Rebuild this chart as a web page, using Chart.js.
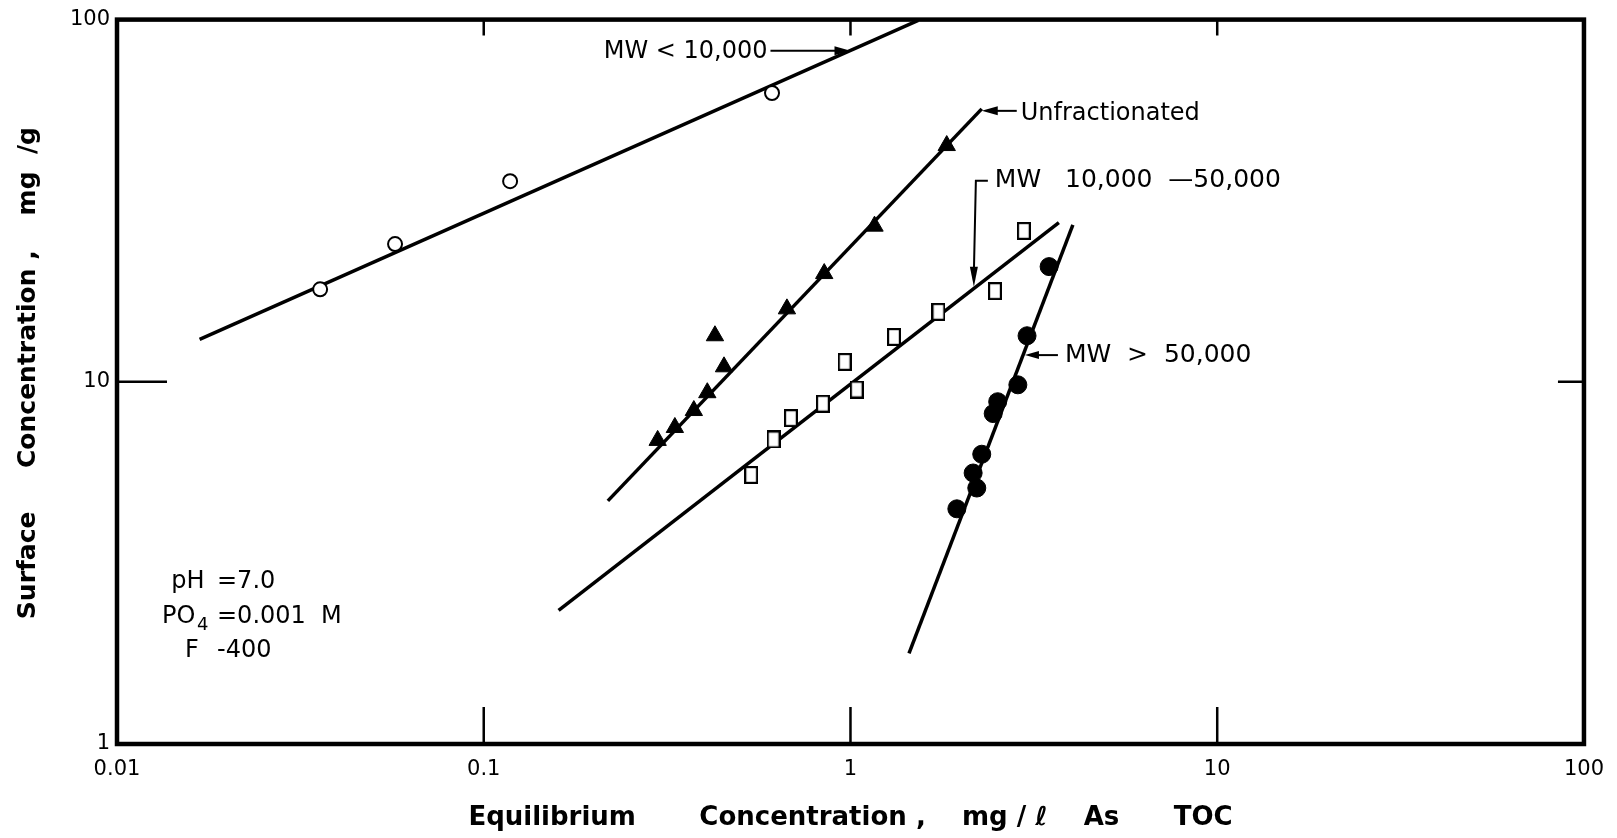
<!DOCTYPE html>
<html>
<head>
<meta charset="utf-8">
<title>Adsorption isotherms</title>
<script src="https://cdn.jsdelivr.net/npm/chart.js@4.4.1/dist/chart.umd.min.js"></script>
<style>
  html, body { margin: 0; padding: 0; background: #fff; }
  canvas { display: block; }
</style>
</head>
<body>
<canvas id="chart" width="1617" height="838"></canvas>
<script>
// log-log axes, decade ticks
const xTicks = [0.01, 0.1, 1, 10, 100];
const xTickLabels = ["0.01", "0.1", "1", "10", "100"];
const yTicks = [1, 10, 100];
const yTickLabels = ["1", "10", "100"];

// MW < 10,000 (open circles)
const lowX = [0.0358, 0.0573, 0.118, 0.611];
const lowY = [18.0, 24.0, 35.8, 62.7];
const lowFitX = [0.0168, 1.53];
const lowFitY = [13.1, 99.5];

// unfractionated (filled triangles)
const unfracX = [0.298, 0.332, 0.374, 0.407, 0.452, 0.427, 0.671, 0.848, 1.163, 1.83];
const unfracY = [6.89, 7.48, 8.33, 9.33, 11.0, 13.4, 15.9, 19.9, 26.9, 44.9];
const unfracFitX = [0.218, 2.28];
const unfracFitY = [4.69, 56.7];

// MW 10,000 - 50,000 (open squares)
const midX = [0.536, 0.617, 0.688, 0.841, 0.964, 1.04, 1.314, 1.737, 2.477, 2.97];
const midY = [5.53, 6.93, 7.94, 8.70, 11.35, 9.52, 13.3, 15.6, 17.8, 26.1];
const midFitX = [0.160, 3.70];
const midFitY = [2.34, 27.5];

// MW > 50,000 (filled circles)
const highX = [3.48, 3.03, 2.86, 2.52, 2.45, 2.28, 2.16, 2.21, 1.95];
const highY = [20.8, 13.4, 9.81, 8.81, 8.17, 6.31, 5.60, 5.09, 4.46];
const highFitX = [1.444, 4.04];
const highFitY = [1.78, 27.1];

const FONT = "'DejaVu Sans', sans-serif";

const pts = (xs, ys) => xs.map((x, i) => ({ x, y: ys[i] }));

// tall open box used for the 10,000-50,000 fraction
function makeBox(w, h) {
  const c = document.createElement("canvas");
  c.width = w; c.height = h;
  const g = c.getContext("2d");
  g.fillStyle = "#fff";
  g.fillRect(0, 0, w, h);
  g.strokeStyle = "#000";
  g.lineWidth = 2.2;
  g.strokeRect(1.1, 1.1, w - 2.2, h - 2.2);
  return c;
}

function points(data, style, radius, fill, border) {
  return {
    data, showLine: false, order: 0,
    pointStyle: style, pointRadius: radius, pointHoverRadius: radius,
    pointBackgroundColor: fill, pointBorderColor: "#000", pointBorderWidth: border
  };
}

function fitLine(data) {
  return {
    data, showLine: true, order: 1, fill: false,
    borderColor: "#000", borderWidth: 3.5, pointRadius: 0, pointHoverRadius: 0
  };
}

// box around the plot plus the short inward ticks
const framePlugin = {
  id: "frame",
  afterDraw(chart) {
    const { ctx, chartArea: a, scales: { x, y } } = chart;
    ctx.save();
    ctx.strokeStyle = "#000";
    ctx.lineWidth = 4.5;
    ctx.strokeRect(a.left, a.top, a.right - a.left, a.bottom - a.top);
    ctx.lineWidth = 2.5;
    ctx.beginPath();
    xTicks.slice(1, -1).forEach(v => {
      const px = x.getPixelForValue(v);
      ctx.moveTo(px, a.bottom); ctx.lineTo(px, a.bottom - 37);
      ctx.moveTo(px, a.top); ctx.lineTo(px, a.top + 16);
    });
    yTicks.slice(1, -1).forEach(v => {
      const py = y.getPixelForValue(v);
      ctx.moveTo(a.left, py); ctx.lineTo(a.left + 50, py);
      ctx.moveTo(a.right, py); ctx.lineTo(a.right - 26, py);
    });
    ctx.stroke();
    ctx.restore();
  }
};

function arrowHead(ctx, x, y, ang, len, half) {
  ctx.beginPath();
  ctx.moveTo(x, y);
  ctx.lineTo(x - len * Math.cos(ang) + half * Math.sin(ang), y - len * Math.sin(ang) - half * Math.cos(ang));
  ctx.lineTo(x - len * Math.cos(ang) - half * Math.sin(ang), y - len * Math.sin(ang) + half * Math.cos(ang));
  ctx.closePath();
  ctx.fill();
}

// curve labels with pointer arrows, and the test conditions
const notesPlugin = {
  id: "notes",
  afterDraw(chart) {
    const { ctx, chartArea: a, scales: { x, y } } = chart;
    const at = (vx, vy) => [x.getPixelForValue(vx), y.getPixelForValue(vy)];
    ctx.save();
    ctx.fillStyle = "#000";
    ctx.strokeStyle = "#000";
    ctx.lineWidth = 2;
    ctx.textBaseline = "middle";

    // MW < 10,000
    let [tx, ty] = at(1.0, 82);
    ctx.beginPath(); ctx.moveTo(tx - 80, ty); ctx.lineTo(tx - 10, ty); ctx.stroke();
    arrowHead(ctx, tx, ty, 0, 16, 4.5);
    ctx.font = "24px " + FONT;
    ctx.textAlign = "right";
    ctx.fillText("MW < 10,000", tx - 83, ty + 1);

    // unfractionated
    [tx, ty] = at(2.28, 56.7);
    ty += 2;
    ctx.beginPath(); ctx.moveTo(tx + 10, ty); ctx.lineTo(tx + 35, ty); ctx.stroke();
    arrowHead(ctx, tx, ty, Math.PI, 16, 4.5);
    ctx.textAlign = "left";
    ctx.fillText("Unfractionated", tx + 39, ty + 3);

    // MW 10,000 - 50,000
    [tx, ty] = at(2.17, 18.3);
    ctx.beginPath();
    ctx.moveTo(tx + 14, ty - 106); ctx.lineTo(tx + 2, ty - 106);
    ctx.lineTo(tx, ty - 14);
    ctx.stroke();
    arrowHead(ctx, tx, ty, Math.PI / 2, 20, 4);
    ctx.font = "25px " + FONT;
    ctx.fillText("MW   10,000  \u201450,000", tx + 21, ty - 106);

    // MW > 50,000
    [tx, ty] = at(2.99, 11.85);
    ctx.beginPath(); ctx.moveTo(tx + 10, ty); ctx.lineTo(tx + 33, ty); ctx.stroke();
    arrowHead(ctx, tx, ty, Math.PI, 14, 4);
    ctx.fillText("MW  >  50,000", tx + 40, ty);

    // conditions block, lower left
    ctx.font = "24px " + FONT;
    const cx = a.left + 71, vx = a.left + 100;
    ctx.textAlign = "center";
    ctx.fillText("pH", cx, a.bottom - 162);
    ctx.fillText("F", cx + 4, a.bottom - 93);
    ctx.textAlign = "left";
    ctx.fillText("PO", cx - 26, a.bottom - 127);
    ctx.font = "18px " + FONT;
    ctx.fillText("4", cx + 9, a.bottom - 119);
    ctx.font = "24px " + FONT;
    ctx.fillText("=7.0", vx, a.bottom - 162);
    ctx.fillText("=0.001  M", vx, a.bottom - 127);
    ctx.fillText("-400", vx, a.bottom - 93);
    ctx.restore();
  }
};

const ctx = document.getElementById("chart").getContext("2d");

new Chart(ctx, {
  type: "scatter",
  data: {
    datasets: [
      points(pts(lowX, lowY), "circle", 7, "#fff", 2),
      points(pts(unfracX, unfracY), "triangle", 10, "#000", 1),
      points(pts(midX, midY), makeBox(14, 18), 9, "#fff", 2),
      points(pts(highX, highY), "circle", 9, "#000", 1),
      fitLine(pts(lowFitX, lowFitY)),
      fitLine(pts(unfracFitX, unfracFitY)),
      fitLine(pts(midFitX, midFitY)),
      fitLine(pts(highFitX, highFitY))
    ]
  },
  options: {
    responsive: false,
    animation: false,
    devicePixelRatio: 1,
    layout: { autoPadding: false, padding: { top: 14, right: 33, left: 0, bottom: 0 } },
    plugins: { legend: { display: false }, tooltip: { enabled: false } },
    scales: {
      x: {
        type: "logarithmic",
        min: 0.01, max: 100,
        afterBuildTicks: s => { s.ticks = xTicks.map(v => ({ value: v })); },
        afterFit: s => { s.height = 94; },
        grid: { display: false, drawTicks: false },
        border: { display: false },
        ticks: {
          padding: 13, color: "#000", maxRotation: 0, autoSkip: false,
          font: { family: FONT, size: 21 },
          callback: (v, i) => xTickLabels[i]
        },
        title: {
          display: true, color: "#000",
          text: "Equilibrium       Concentration ,    mg / \u2113    As      TOC",
          font: { family: FONT, size: 26, weight: "bold" },
          padding: { top: 0, bottom: 4 }
        }
      },
      y: {
        type: "logarithmic",
        min: 1, max: 100,
        afterBuildTicks: s => { s.ticks = yTicks.map(v => ({ value: v })); },
        afterFit: s => { s.width = 117; },
        grid: { display: false, drawTicks: false },
        border: { display: false },
        ticks: {
          padding: 7, color: "#000", autoSkip: false,
          font: { family: FONT, size: 21 },
          callback: (v, i) => yTickLabels[i]
        },
        title: {
          display: true, color: "#000",
          text: "  Surface     Concentration ,    mg  /g",
          font: { family: FONT, size: 25, weight: "bold" },
          padding: { top: 13, bottom: 0 }
        }
      }
    }
  },
  plugins: [framePlugin, notesPlugin]
});
</script>
</body>
</html>
